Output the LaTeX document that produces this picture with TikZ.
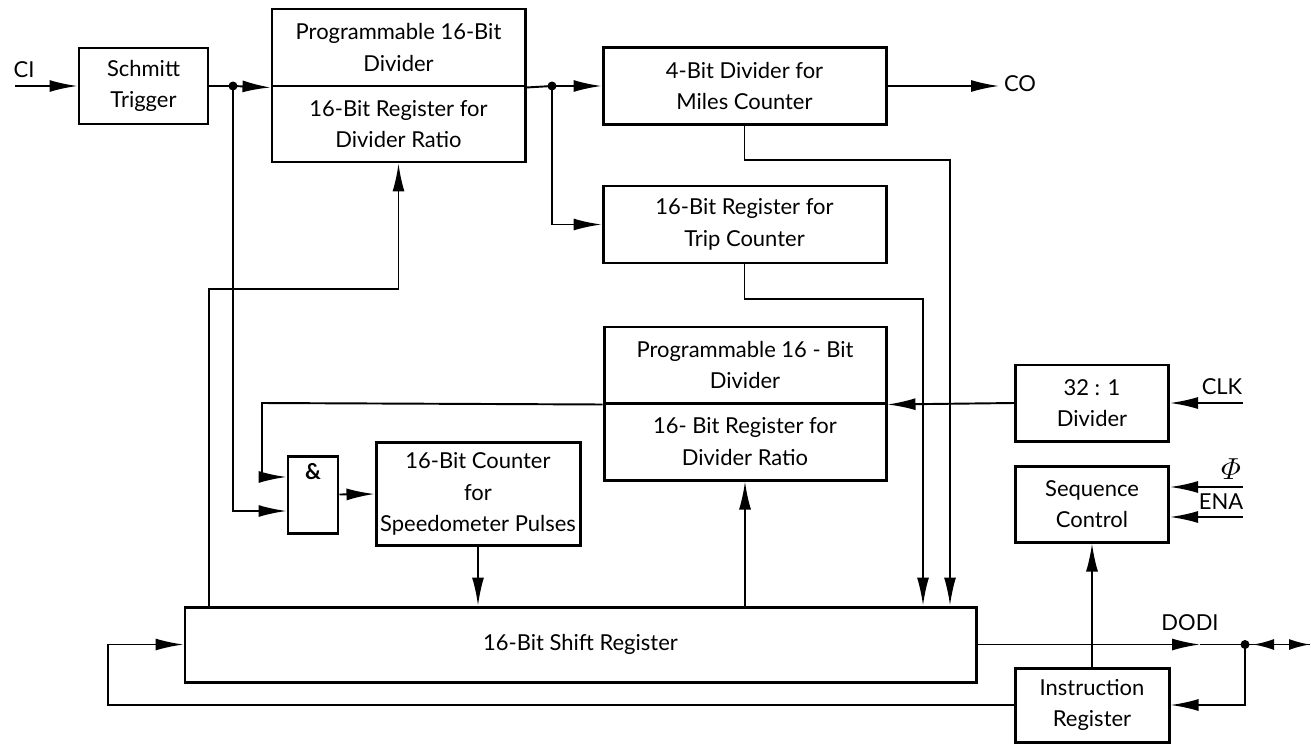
\documentclass[tikz,border=0pt]{standalone}
\usepackage{amsmath}
\usepackage{fontspec}
\setmainfont{Lato}
\usetikzlibrary{calc,arrows.meta}

\begin{document}
\begin{tikzpicture}[
  box/.style={draw, line width=1.7pt, inner sep=0pt, align=center,
    font=\fontsize{12.5}{18}\selectfont},
  sig/.style={line width=1.1pt, -{Latex[length=0.56cm,width=0.24cm]}},
  sigs/.style={line width=1.1pt, -{Latex[length=0.42cm,width=0.22cm]}},
  wire/.style={line width=1.1pt},
  lbl/.style={font=\fontsize{12.5}{15}\selectfont}]
  \useasboundingbox (0,0) rectangle (26.22,14.88);
  \node[box, minimum width=2.58cm, minimum height=1.52cm] (schmitt) at (2.87,13.16) {Schmitt\\Trigger};
  \node[box, minimum width=5.06cm, minimum height=1.54cm] (prog1) at (7.97,13.93) {Programmable 16-Bit\\Divider};
  \node[box, minimum width=5.06cm, minimum height=1.52cm] (reg1) at (7.97,12.40) {16-Bit Register for\\Divider Ratio};
  \node[box, minimum width=5.66cm, minimum height=1.54cm] (miles) at (14.89,13.16) {4-Bit Divider for\\Miles Counter};
  \node[box, minimum width=5.66cm, minimum height=1.54cm] (trip) at (14.89,10.39) {16-Bit Register for\\Trip Counter};
  \node[box, minimum width=5.64cm, minimum height=1.52cm] (prog2) at (14.90,7.58) {Programmable 16 - Bit\\Divider};
  \node[box, minimum width=5.64cm, minimum height=1.54cm] (reg2) at (14.90,6.05) {16- Bit Register for\\Divider Ratio};
  \node[box, minimum width=3.06cm, minimum height=1.52cm] (div32) at (21.84,6.82) {32 : 1\\Divider};
  \node[box, minimum width=3.06cm, minimum height=1.52cm] (seq) at (21.84,4.80) {Sequence\\Control};
  \node[box, minimum width=3.08cm, minimum height=1.48cm] (instr) at (21.84,0.78) {Instruction\\Register};
  \node[box, minimum width=1.00cm, minimum height=1.54cm] (andg) at (6.26,4.99) {};
  \node[lbl] (amp) at (6.26,5.44) {\textbf{\&}};
  \node[box, minimum width=4.08cm, minimum height=2.06cm] (counter) at (9.56,5.00) {16-Bit Counter\\for\\Speedometer Pulses};
  \node[box, minimum width=15.82cm, minimum height=1.50cm] (shift) at (11.61,1.99) {16-Bit Shift Register};

  \node[lbl] (cil) at (0.48,13.48) {CI};
  \node[lbl] (col) at (20.40,13.20) {CO};
  \node[lbl] (clkl) at (24.44,7.14) {CLK};
  \node[font=\fontsize{17}{20}\selectfont] (phil) at (24.62,5.50) {$\varPhi$};
  \node[lbl] (enal) at (24.42,4.84) {ENA};
  \node[lbl] (dodil) at (23.80,2.42) {DODI};

  \coordinate (ci) at (0.30,13.16);
  \coordinate (j1) at (4.66,13.16);
  \coordinate (j2) at (11.04,13.16);
  \coordinate (co) at (19.98,13.16);
  \coordinate (m1) at (19.00,11.68);
  \coordinate (t1) at (18.46,8.90);
  \coordinate (r1) at (4.18,9.10);
  \coordinate (u1) at (5.24,6.82);
  \coordinate (clk) at (24.86,6.82);
  \coordinate (phi) at (24.86,5.14);
  \coordinate (ena) at (24.86,4.54);
  \coordinate (lp) at (2.16,0.78);
  \coordinate (j3) at (24.90,1.99);
  \coordinate (dtip) at (24.00,1.99);
  \coordinate (dio) at (26.20,1.99);

  \draw[sig] (ci) -- (schmitt.west);
  \draw[wire] (schmitt.east) -- (j1);
  \draw[sig] (j1) -- (prog1.south west);
  \draw[wire] (prog1.south east) -- (j2);
  \draw[sig] (j2) -- (miles.west);
  \draw[sig] (miles.east) -- (co);
  \draw[sig] (j2) |- (trip.west);
  \draw[sig] (miles.south) |- (m1) -- (m1 |- shift.north);
  \draw[sig] (trip.south) |- (t1) -- (t1 |- shift.north);
  \draw[sig] (r1 |- shift.north) -- (r1) -| (reg1.south);
  \draw[sig] (j1) |- ($(andg.west)+(0,-0.33)$);
  \draw[sig] (prog2.south west) -- (u1) |- ($(andg.west)+(0,0.35)$);
  \draw[sig] (andg.east) -- (counter.west);
  \draw[sig] (counter.south) -- (shift.north -| counter.south);
  \draw[sig] (shift.north -| reg2.south) -- (reg2.south);
  \draw[sig] (div32.west) -- (prog2.south east);
  \draw[sig] (clk) -- (div32.east);
  \draw[sig] (phi) -- (phi -| seq.east);
  \draw[sig] (ena) -- (ena -| seq.east);
  \draw[sig] (instr.north) -- (seq.south);
  \draw[sig] (shift.east) -- (dtip);
  \draw[wire] (dtip) -- (dio);
  \draw[sigs] ($(j3)+(0.58,0)$) -- ($(j3)+(0.16,0)$);
  \draw[sigs] ($(dio)+(-0.44,0)$) -- (dio);
  \draw[sig] (j3) |- (instr.east);
  \draw[sig] (instr.west) -- (lp) |- (shift.west);
  \fill (j1) circle (0.09) (j2) circle (0.09) (j3) circle (0.09);
\end{tikzpicture}
\end{document}
